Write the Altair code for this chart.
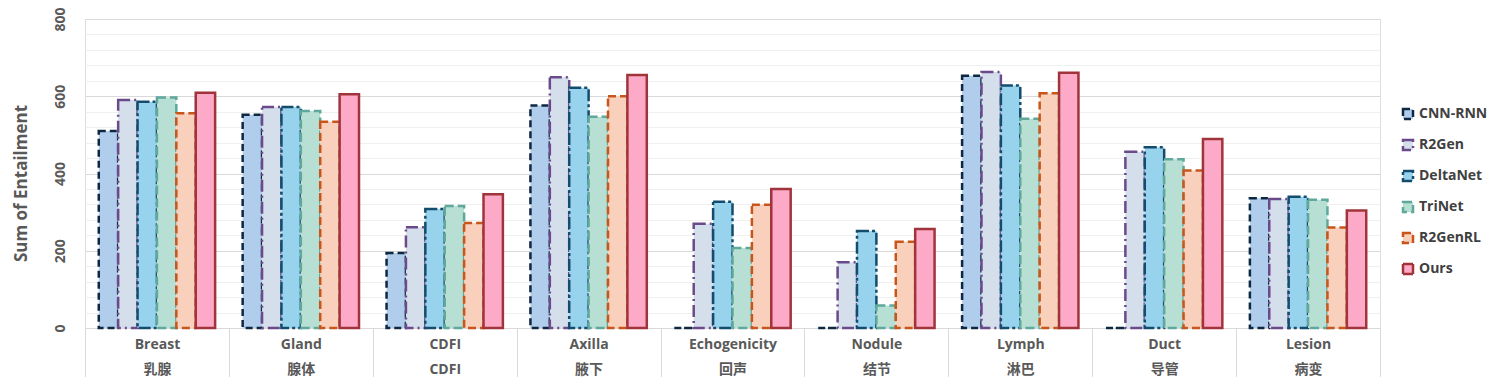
import altair as alt
import pandas as pd

categories = ["Breast", "Gland", "CDFI", "Axilla", "Echogenicity", "Nodule", "Lymph", "Duct", "Lesion"]
categories_zh = ["乳腺", "腺体", "CDFI", "腋下", "回声", "结节", "淋巴", "导管", "病变"]
models = ["CNN-RNN", "R2Gen", "DeltaNet", "TriNet", "R2GenRL", "Ours"]

cnn_rnn = [510, 552, 194, 576, 0, 0, 653, 0, 336]
r2gen = [590, 572, 261, 649, 270, 170, 663, 456, 334]
deltanet = [586, 572, 308, 622, 327, 251, 628, 468, 340]
trinet = [597, 562, 316, 547, 207, 58, 542, 437, 332]
r2genrl = [556, 534, 272, 600, 319, 223, 608, 408, 260]
ours = [609, 605, 346, 655, 360, 256, 661, 489, 304]

series = [cnn_rnn, r2gen, deltanet, trinet, r2genrl, ours]

fills = ["#b0cdec", "#d5dfec", "#98d3ee", "#b8dfd3", "#f8d0bb", "#fdaac8"]
strokes = ["#0e2841", "#6a4a8a", "#144c6e", "#5ea89c", "#c8561a", "#a0343a"]
dashes = [[7, 4], [12, 4, 2, 4], [12, 3, 3, 3], [9, 4], [8, 4], [1, 0]]
widths = [2.5, 2.5, 2.5, 2.5, 2.5, 3.2]

cat_keys = [f"{c}|{z}" for c, z in zip(categories, categories_zh)]
rows = []
for m, vals in zip(models, series):
    for k, v in zip(cat_keys, vals):
        rows.append({"cat": k, "model": m, "value": v})
df = pd.DataFrame(rows)

FONT = "Open Sans, Noto Sans CJK SC"

legend = alt.Legend(
    title=None, orient="none", legendX=1316, legendY=88, padding=0,
    symbolType="square", symbolSize=100, symbolStrokeWidth=2.5,
    labelFont=FONT, labelFontSize=14, labelFontWeight="bold", labelColor="#404040",
    labelOffset=4, rowPadding=11, labelLimit=200,
)

chart = alt.Chart(df).mark_bar(fillOpacity=1, strokeJoin="miter").encode(
    x=alt.X(
        "cat:N", sort=cat_keys,
        scale=alt.Scale(paddingInner=0, paddingOuter=0),
        axis=alt.Axis(
            title=None, labelExpr="split(datum.label, '|')", labelAngle=0,
            tickBand="extent", tickSize=49, tickColor="#d9d9d9", tickWidth=1,
            domainColor="#d9d9d9", labelFont=FONT, labelFontSize=14,
            labelFontWeight="bold", labelColor="#595959", labelLineHeight=25,
            labelBaseline="top", labelPadding=-40,
        ),
    ),
    xOffset=alt.XOffset("model:N", sort=models, scale=alt.Scale(paddingOuter=0.71, paddingInner=0)),
    y=alt.Y(
        "value:Q", scale=alt.Scale(domain=[0, 800], nice=False),
        axis=alt.Axis(
            title="Sum of Entailment", values=list(range(0, 801, 40)),
            labelExpr="datum.value % 200 == 0 ? datum.label : ''",
            domain=False, ticks=False,
            gridColor={"condition": {"test": "datum.value % 200 === 0", "value": "#d9d9d9"}, "value": "#efefef"},
            gridWidth=1,
            labelAngle=270, labelAlign="center", labelBaseline="bottom", labelPadding=18,
            labelFont=FONT, labelFontSize=14, labelFontWeight="bold", labelColor="#595959",
            titleFont=FONT, titleFontSize=17, titleFontWeight="bold", titleColor="#595959",
            titleAngle=270, titleX=-64, titleY=164, titleAlign="center", titleBaseline="middle",
        ),
    ),
    fill=alt.Fill("model:N", sort=models, scale=alt.Scale(domain=models, range=fills), legend=legend),
    stroke=alt.Stroke("model:N", sort=models, scale=alt.Scale(domain=models, range=strokes), legend=legend),
    strokeDash=alt.StrokeDash("model:N", sort=models, scale=alt.Scale(domain=models, range=dashes), legend=legend),
    strokeWidth=alt.StrokeWidth("model:N", sort=models, scale=alt.Scale(domain=models, range=widths), legend=None),
).properties(
    width=1295, height=309,
    autosize=alt.AutoSizeParams(type="none"),
    padding={"left": 77, "top": 11, "right": 107, "bottom": 49},
).configure_view(stroke=None).configure(background="white")

chart.save("out.html", embed_options={"renderer": "svg", "actions": False})
